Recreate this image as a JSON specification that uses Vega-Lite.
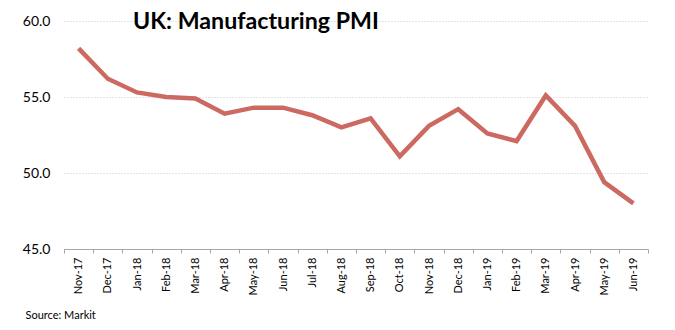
{
  "$schema": "https://vega.github.io/schema/vega-lite/v6.json",
  "autosize": {"type": "none"},
  "width": 584,
  "height": 228,
  "padding": {"left": 64, "top": 21, "right": 27, "bottom": 81},
  "background": "white",
  "title": {
    "text": "UK: Manufacturing PMI",
    "anchor": "start",
    "frame": "group",
    "font": "Lato",
    "fontSize": 23.2,
    "fontWeight": "bold",
    "color": "#000000",
    "baseline": "alphabetic",
    "offset": 0,
    "dx": 69,
    "dy": 38
  },
  "data": {
    "values": [
      {"month": "Nov-17", "pmi": 58.2},
      {"month": "Dec-17", "pmi": 56.2},
      {"month": "Jan-18", "pmi": 55.3},
      {"month": "Feb-18", "pmi": 55.0},
      {"month": "Mar-18", "pmi": 54.9},
      {"month": "Apr-18", "pmi": 53.9},
      {"month": "May-18", "pmi": 54.3},
      {"month": "Jun-18", "pmi": 54.3},
      {"month": "Jul-18", "pmi": 53.8},
      {"month": "Aug-18", "pmi": 53.0},
      {"month": "Sep-18", "pmi": 53.6},
      {"month": "Oct-18", "pmi": 51.1},
      {"month": "Nov-18", "pmi": 53.1},
      {"month": "Dec-18", "pmi": 54.2},
      {"month": "Jan-19", "pmi": 52.6},
      {"month": "Feb-19", "pmi": 52.1},
      {"month": "Mar-19", "pmi": 55.1},
      {"month": "Apr-19", "pmi": 53.1},
      {"month": "May-19", "pmi": 49.4},
      {"month": "Jun-19", "pmi": 48.0}
    ]
  },
  "mark": {"type": "line", "color": "#cc6a62", "strokeWidth": 4.5, "strokeJoin": "miter", "strokeCap": "butt"},
  "encoding": {
    "x": {
      "field": "month",
      "type": "ordinal",
      "sort": null,
      "bandPosition": 0.5,
      "scale": {"type": "band", "paddingInner": 0, "paddingOuter": 0},
      "axis": {
        "title": "Source: Markit",
        "titleAnchor": "start",
        "titleAlign": "left",
        "titleBaseline": "alphabetic",
        "titleX": -39,
        "titleY": 69,
        "titleFont": "Lato",
        "titleFontSize": 11,
        "titleFontWeight": "normal",
        "titleColor": "#000000",
        "labelAngle": -90,
        "labelAlign": "right",
        "labelBaseline": "middle",
        "labelFont": "Lato",
        "labelFontSize": 11,
        "labelColor": "#000000",
        "labelPadding": 4,
        "tickBand": "extent",
        "ticks": true,
        "tickSize": 4,
        "tickColor": "#a6a6a6",
        "domainColor": "#a6a6a6",
        "domainWidth": 1,
        "grid": false
      }
    },
    "y": {
      "field": "pmi",
      "type": "quantitative",
      "scale": {"domain": [45, 60], "nice": false, "zero": false},
      "axis": {
        "title": null,
        "values": [45, 50, 55, 60],
        "format": ".1f",
        "domain": false,
        "ticks": false,
        "labelFont": "Lato",
        "labelFontSize": 14,
        "labelColor": "#000000",
        "labelPadding": 14,
        "grid": true,
        "gridColor": "#c8c8c8",
        "gridDash": [1, 2],
        "gridWidth": 1
      }
    }
  },
  "config": {"view": {"stroke": null}}
}
